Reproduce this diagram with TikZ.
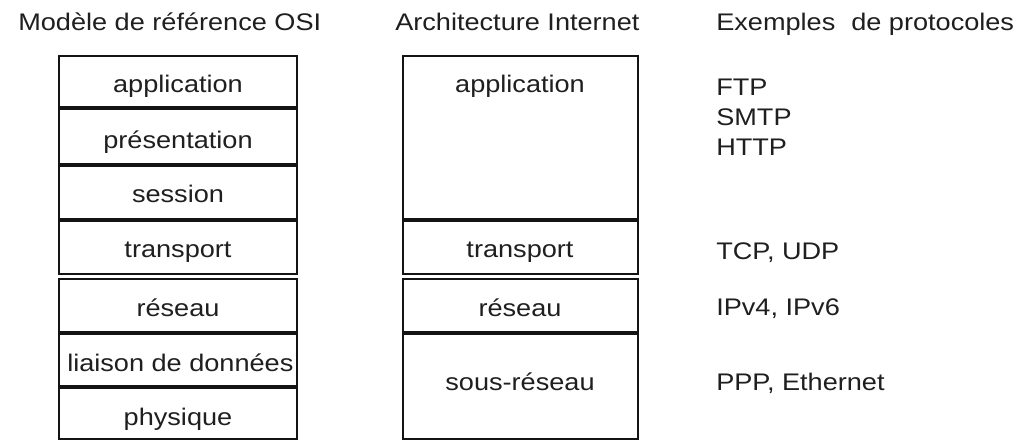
\documentclass[tikz,border=0pt]{standalone}
\usepackage{fontspec}
\setmainfont{Liberation Sans}[FakeStretch=1.13]
\usetikzlibrary{fit}
\begin{document}
\begin{tikzpicture}[x=0.75pt,y=-0.75pt,
  layer/.style={draw=black!92, line width=1.5pt, inner sep=0pt},
  txt/.style={inner sep=0pt, text=black!88, font=\fontsize{18}{20}\selectfont},
]
\useasboundingbox (0,0) rectangle (1024,441);
\fill[white] (0,0) rectangle (1024,441);

% column headings
\node[txt, anchor=base west] (hosi)   at (18,31)  {Modèle de référence OSI};
\node[txt, anchor=base west] (hinet)  at (395,31) {Architecture Internet};
\node[txt, anchor=base west] (hproto) at (716,31) {Exemples\hspace{0.35em} de protocoles};

% OSI reference model: seven layers
\node[layer, fit={(59,56)(297,107)}]  (osi7) {};
\node[layer, fit={(59,109)(297,164)}] (osi6) {};
\node[layer, fit={(59,166)(297,219)}] (osi5) {};
\node[layer, fit={(59,221)(297,274)}] (osi4) {};
\node[layer, fit={(59,279)(297,332)}] (osi3) {};
\node[layer, fit={(59,334)(297,386)}] (osi2) {};
\node[layer, fit={(59,388)(297,439)}] (osi1) {};

\node[txt, anchor=base] (t7) at (178,93)  {application};
\node[txt, anchor=base] (t6) at (178,149) {présentation};
\node[txt, anchor=base] (t5) at (178,203) {session};
\node[txt, anchor=base] (t4) at (178,258) {transport};
\node[txt, anchor=base] (t3) at (178,317) {réseau};
\node[txt, anchor=base west] (t2) at (67,372) {liaison de données};
\node[txt, anchor=base] (t1) at (178,425) {physique};

% Internet architecture: four layers
\node[layer, fit={(403,56)(638,219)}]  (inet4) {};
\node[layer, fit={(403,221)(638,274)}] (inet3) {};
\node[layer, fit={(403,279)(638,332)}] (inet2) {};
\node[layer, fit={(403,334)(638,439)}] (inet1) {};

\node[txt, anchor=base] (u4) at (520,93)  {application};
\node[txt, anchor=base] (u3) at (520,258) {transport};
\node[txt, anchor=base] (u2) at (520,317) {réseau};
\node[txt, anchor=base] (u1) at (520,391) {sous-réseau};

% protocol examples
\node[txt, anchor=base west] (pftp)  at (716,96)  {FTP};
\node[txt, anchor=base west] (psmtp) at (716,126) {SMTP};
\node[txt, anchor=base west] (phttp) at (716,156) {HTTP};
\node[txt, anchor=base west] (ptcp)  at (716,260) {TCP, UDP};
\node[txt, anchor=base west] (pip)   at (716,316) {IPv4, IPv6};
\node[txt, anchor=base west] (pppp)  at (716,391) {PPP, Ethernet};
\end{tikzpicture}
\end{document}
